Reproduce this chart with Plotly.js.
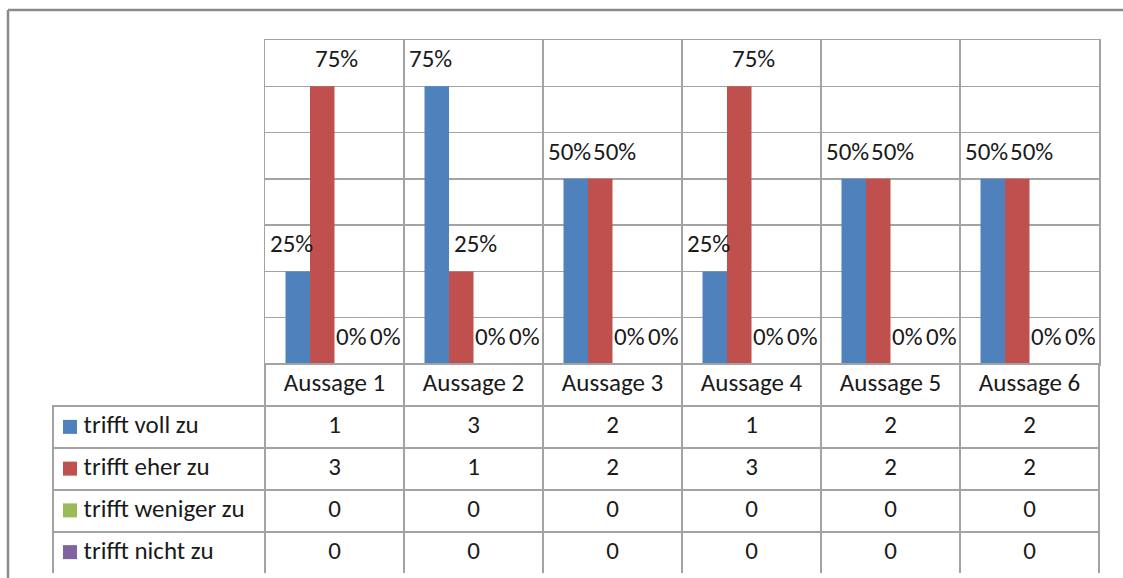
<!DOCTYPE html>
<html>
<head>
<meta charset="utf-8">
<script src="https://cdn.plot.ly/plotly-3.0.1.min.js"></script>
<style>html,body{margin:0;padding:0;background:#fff;} #chart{width:1123px;height:578px;}</style>
</head>
<body>
<div id="chart"></div>
<script>
// ---- data ----
const categories = ["Aussage 1", "Aussage 2", "Aussage 3", "Aussage 4", "Aussage 5", "Aussage 6"];
const seriesNames = ["trifft voll zu", "trifft eher zu", "trifft weniger zu", "trifft nicht zu"];
const countsVoll    = [1, 3, 2, 1, 2, 2];
const countsEher    = [3, 1, 2, 3, 2, 2];
const countsWeniger = [0, 0, 0, 0, 0, 0];
const countsNicht   = [0, 0, 0, 0, 0, 0];
const pctVoll    = [0.25, 0.75, 0.50, 0.25, 0.50, 0.50];
const pctEher    = [0.75, 0.25, 0.50, 0.75, 0.50, 0.50];
const pctWeniger = [0, 0, 0, 0, 0, 0];
const pctNicht   = [0, 0, 0, 0, 0, 0];
const colors = ["#4F81BD", "#C0504D", "#9BBB59", "#8064A2"];

// ---- layout / style constants ----
const W = 1123, H = 578;
const FONT = "Carlito, Lato, 'Open Sans', sans-serif";
const FS = 25;
const gridCol = "#a3a3a3";
const plotL = 265, plotR = 1099, plotT = 40, plotB = 364;
const tableL = 53, tableB = 573, rowH = 42;
const bargap = 0.295;
const labelXShift = [-6, 14, 5, 14];   // label nudges per series (px), like the original's label placement
const NB = "\u00A0";

const pcts = [pctVoll, pctEher, pctWeniger, pctNicht];
const counts = [countsVoll, countsEher, countsWeniger, countsNicht];

const traces = pcts.map((vals, i) => ({
  type: "bar",
  name: seriesNames[i],
  x: categories,
  y: vals,
  marker: {color: colors[i], line: {width: 0}},
  hoverinfo: "skip",
  xaxis: "x", yaxis: "y"
}));

// legend key squares of the data table (one per series, on their own hidden axes)
traces.push({
  type: "scatter",
  mode: "markers",
  x: seriesNames.map(() => 0),
  y: seriesNames,
  marker: {symbol: "square", size: 14, color: colors, line: {width: 0}},
  hoverinfo: "skip",
  xaxis: "x2", yaxis: "y2"
});

// data table (category row + one row per series)
const tableCols = [seriesNames].concat(categories.map((c, j) => counts.map(s => String(s[j]))));
traces.push({
  type: "table",
  domain: {x: [tableL / W, plotR / W], y: [(H - tableB) / H, (H - plotB) / H]},
  columnwidth: [plotL - tableL].concat(categories.map(() => (plotR - plotL) / categories.length)),
  header: {
    values: [""].concat(categories),
    height: rowH,
    align: "center",
    font: {family: FONT, size: FS, color: "#1a1a1a"},
    fill: {color: ["rgba(0,0,0,0)"].concat(categories.map(() => "white"))},
    line: {color: gridCol, width: [0].concat(categories.map(() => 1.5))}
  },
  cells: {
    values: tableCols,
    prefix: [NB.repeat(2)].concat(categories.map(() => "")),
    height: rowH,
    align: ["left"].concat(categories.map(() => "center")),
    font: {family: FONT, size: FS, color: "#1a1a1a"},
    fill: {color: ["rgba(0,0,0,0)"].concat(categories.map(() => "white"))},
    line: {color: gridCol, width: 1.5}
  }
});

// data labels above bars
const nS = pcts.length;
const barW = (1 - bargap) / nS;
const annotations = [];
pcts.forEach((vals, i) => {
  vals.forEach((v, j) => {
    annotations.push({
      x: j + (i - (nS - 1) / 2) * barW,
      y: v,
      xref: "x", yref: "y",
      text: Math.round(v * 100) + "%",
      showarrow: false,
      yanchor: "bottom",
      yshift: 10,
      xshift: labelXShift[i],
      font: {family: FONT, size: FS, color: "#1a1a1a"}
    });
  });
});

const layout = {
  width: W, height: H,
  margin: {l: 0, r: 0, t: 0, b: 0},
  paper_bgcolor: "white",
  plot_bgcolor: "rgba(0,0,0,0)",
  showlegend: false,
  barmode: "group",
  bargap: bargap,
  bargroupgap: 0,
  xaxis: {
    domain: [plotL / W, plotR / W],
    type: "category",
    range: [-0.5, categories.length - 0.5],
    tickson: "boundaries",
    showgrid: true, gridcolor: gridCol, gridwidth: 1.5,
    showline: true, mirror: true, linecolor: gridCol, linewidth: 1.5,
    showticklabels: false, ticks: "",
    fixedrange: true
  },
  yaxis: {
    domain: [(H - plotB) / H, (H - plotT) / H],
    range: [0, 0.875],
    dtick: 0.125, tick0: 0,
    showgrid: true, gridcolor: gridCol, gridwidth: 1.5,
    zeroline: false,
    showline: true, mirror: true, linecolor: gridCol, linewidth: 1.5,
    showticklabels: false, ticks: "",
    fixedrange: true
  },
  xaxis2: {
    domain: [60 / W, 80 / W], range: [-1, 1], anchor: "y2",
    visible: false, fixedrange: true
  },
  yaxis2: {
    domain: [(H - tableB) / H, (H - plotB - rowH) / H], anchor: "x2",
    type: "category", categoryorder: "array", categoryarray: seriesNames,
    range: [seriesNames.length - 0.5, -0.5],
    visible: false, fixedrange: true
  },
  annotations: annotations,
  shapes: [
    {type: "line", xref: "paper", yref: "paper", x0: 8 / W, x1: 1, y0: (H - 10) / H, y1: (H - 10) / H,
     line: {color: "#8a8a8a", width: 2.5}},
    {type: "line", xref: "paper", yref: "paper", x0: 8 / W, x1: 8 / W, y0: 0, y1: (H - 10) / H,
     line: {color: "#8a8a8a", width: 2.5}}
  ]
};

Plotly.newPlot("chart", traces, layout, {displayModeBar: false, staticPlot: true});
</script>
</body>
</html>
